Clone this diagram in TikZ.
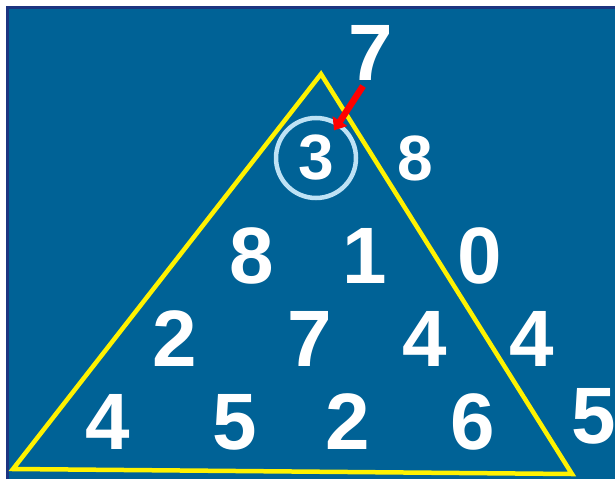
\documentclass[tikz,border=0pt]{standalone}
\usepackage{fontspec}
\setmainfont{Liberation Sans}
\usetikzlibrary{arrows.meta}

\definecolor{slideblue}{RGB}{0,98,150}
\definecolor{slidenavy}{RGB}{28,52,128}
\definecolor{ringblue}{RGB}{190,226,245}

\begin{document}
\begin{tikzpicture}[
    x=1pt, y=-1pt,
    digit/.style={
        text=white, inner sep=0pt,
        font=\bfseries\fontsize{80}{80}\selectfont
    },
    smalldigit/.style={digit, font=\bfseries\fontsize{64}{64}\selectfont},
    ring/.style={
        circle, draw=ringblue, line width=4.5pt,
        minimum size=80pt, inner sep=0pt, outer sep=0pt
    },
    edge/.style={draw=yellow, line width=4.5pt, line join=miter},
    pointer/.style={-{Triangle[width=17pt, length=11pt]}, red, line width=6.5pt}
]

% Background
\useasboundingbox (0,0) rectangle (615,479);
\fill[white] (0,0) rectangle (615,479);
\fill[slideblue] (6,6) rectangle (615,479);
\draw[slidenavy, line width=3pt] (7.5,479) -- (7.5,7.5) -- (615,7.5);

% Triangle
\coordinate (apex) at (321,74);
\coordinate (bl) at (13,469);
\coordinate (br) at (572,474);
\draw[edge] (apex) -- (br) -- (bl) -- cycle;

% Top
\node[ring, smalldigit] (c3) at (316,158) {3};
\node[smalldigit] (t8) at (415,158) {8};
\node[digit] (t7) at (371,53) {7};

% Row 1
\node[digit] (r1a) at (252,256) {8};
\node[digit] (r1b) at (365,256) {1};
\node[digit] (r1c) at (480,256) {0};

% Row 2
\node[digit] (r2a) at (175,339) {2};
\node[digit] (r2b) at (310,339) {7};
\node[digit] (r2c) at (425,339) {4};
\node[digit] (r2d) at (532,339) {4};

% Row 3
\node[digit] (r3a) at (108,422) {4};
\node[digit] (r3b) at (235,422) {5};
\node[digit] (r3c) at (348,422) {2};
\node[digit] (r3d) at (473,422) {6};
\node[digit] (r3e) at (594,416) {5};

% Arrow
\coordinate (tail) at (363,86);
\draw[pointer, shorten >=33pt] (tail) -- (c3.center);

\end{tikzpicture}
\end{document}
